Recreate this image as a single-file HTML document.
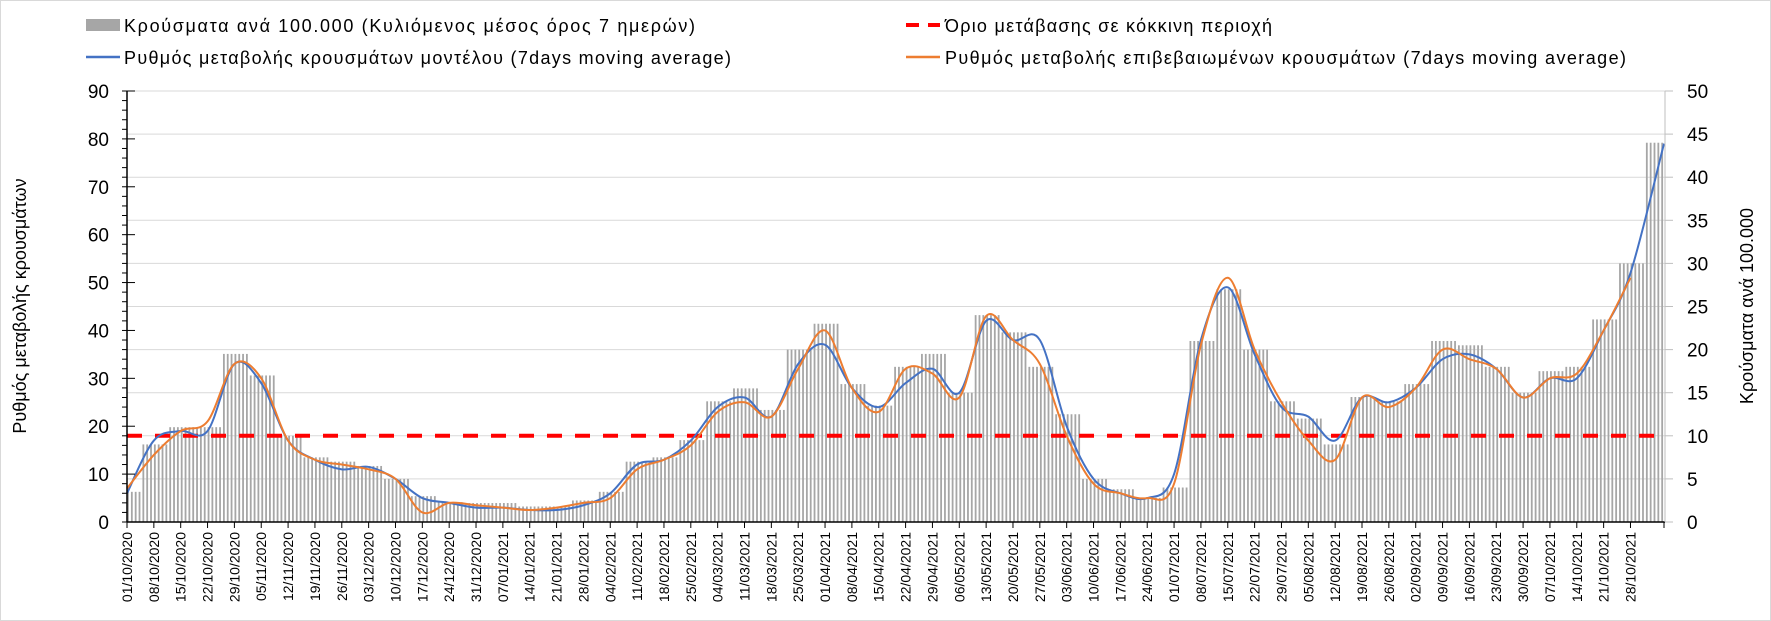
<!DOCTYPE html>
<html><head><meta charset="utf-8"><style>
body{margin:0;background:#fff}
svg{display:block;font-family:"Liberation Sans","DejaVu Sans",sans-serif}
</style></head><body>
<svg id="chart" width="1771" height="621" viewBox="0 0 1771 621">
<rect x="0.5" y="0.5" width="1770" height="620" fill="#fff" stroke="#d9d9d9"/>
<g id="grid"></g><g id="bars"></g><g id="lines"></g><g id="axes"></g>
<g>
<rect x="86" y="19" width="34" height="12" fill="#a6a6a6"/>
<text x="124" y="32" font-size="18" fill="#000" textLength="571">Κρούσματα ανά 100.000 (Κυλιόμενος μέσος όρος 7 ημερών)</text>
<line x1="906" y1="25" x2="940" y2="25" stroke="#ff0000" stroke-width="4" stroke-dasharray="13,9"/>
<text x="945" y="32" font-size="18" fill="#000" textLength="327">Όριο μετάβασης σε κόκκινη περιοχή</text>
<line x1="86" y1="57" x2="120" y2="57" stroke="#4472c4" stroke-width="2.5"/>
<text x="124" y="64" font-size="18" fill="#000" textLength="607">Ρυθμός μεταβολής κρουσμάτων μοντέλου (7days moving average)</text>
<line x1="906" y1="57" x2="940" y2="57" stroke="#ed7d31" stroke-width="2.5"/>
<text x="945" y="64" font-size="18" fill="#000" textLength="681">Ρυθμός μεταβολής επιβεβαιωμένων κρουσμάτων (7days moving average)</text>
</g>
<text transform="translate(26,306) rotate(-90)" text-anchor="middle" font-size="18">Ρυθμός μεταβολής κρουσμάτων</text>
<text transform="translate(1753,306) rotate(-90)" text-anchor="middle" font-size="18">Κρούσματα ανά 100.000</text>
</svg>
<script>
const weekLabels=["01/10/2020","08/10/2020","15/10/2020","22/10/2020","29/10/2020","05/11/2020","12/11/2020","19/11/2020","26/11/2020","03/12/2020","10/12/2020","17/12/2020","24/12/2020","31/12/2020","07/01/2021","14/01/2021","21/01/2021","28/01/2021","04/02/2021","11/02/2021","18/02/2021","25/02/2021","04/03/2021","11/03/2021","18/03/2021","25/03/2021","01/04/2021","08/04/2021","15/04/2021","22/04/2021","29/04/2021","06/05/2021","13/05/2021","20/05/2021","27/05/2021","03/06/2021","10/06/2021","17/06/2021","24/06/2021","01/07/2021","08/07/2021","15/07/2021","22/07/2021","29/07/2021","05/08/2021","12/08/2021","19/08/2021","26/08/2021","02/09/2021","09/09/2021","16/09/2021","23/09/2021","30/09/2021","07/10/2021","14/10/2021","21/10/2021","28/10/2021"];
const casesPer100k=[3.5,9,11,11,19.5,17,10,7.5,7,6.5,5,3,2.3,2.2,2.2,1.8,1.8,2.5,3.5,7,7.5,9.5,14,15.5,13,20,23,16,13.5,18,19.5,15,24,22,18,12.5,5,3.8,2.8,4,21,27,20,14,12,9,14.5,14,16,21,20.5,18,15,17.5,18,23.5,30,44];
const modelRate=[6,17,19,19,33,29,17,13,11,11.5,9,5,4,3,3,2.5,2.5,3.5,6,12,13,17,24,26,22,33,37,28,24,29,32,27,42,38,38,20,9,6,5,10,38,49,35,24,22,17,26,25,28,34,35,32,26,30,30,40,52,79];
const confirmedRate=[7,14,19,21,33,30,17,13,12,11,9,2,4,3.5,3,2.5,3,4,5,11,13,16,23,25,22,32,40,28,23,32,31,26,43,38,33,18,8,6,5,8,37,51,36,25,17,13,26,24,28,36,34,32,26,30,31,40,51];
const leftTicks=[0,10,20,30,40,50,60,70,80,90];
const rightTicks=[0,5,10,15,20,25,30,35,40,45,50];
const threshold=[18];

const NS="http://www.w3.org/2000/svg";
const X0=127,X1=1665,Y0=522,Y1=91,DAYS=401;
const xDay=d=>X0+d*(X1-X0)/DAYS;
const yL=v=>Y0-v*(Y0-Y1)/90;
const yR=v=>Y0-v*(Y0-Y1)/50;
function mk(tag,attrs,parent){const e=document.createElementNS(NS,tag);for(const k in attrs)e.setAttribute(k,attrs[k]);parent.appendChild(e);return e;}
const grid=document.getElementById('grid'),bars=document.getElementById('bars'),lines=document.getElementById('lines'),axes=document.getElementById('axes');

rightTicks.forEach(v=>{if(v===0)return;const l=mk('line',{x1:X0,x2:X1,y1:yR(v),y2:yR(v),stroke:'#d9d9d9','stroke-width':1},grid);

});

casesPer100k.forEach((v,w)=>{for(let k=-3;k<=3;k++){const d=w*7+k;if(d<0||d>DAYS)continue;const x=xDay(d)+1;if(x>X1-1)continue;
const r=mk('rect',{x:x-0.9,y:yR(v),width:1.8,height:Y0-yR(v),fill:'#a6a6a6'},bars);

}});

const th=mk('line',{x1:X0,x2:X1-10,y1:yL(threshold[0]),y2:yL(threshold[0]),stroke:'#ff0000','stroke-width':4,'stroke-dasharray':'15,13'},lines);



function smooth(pts){let d=`M${pts[0][0]},${pts[0][1]}`;for(let i=0;i<pts.length-1;i++){const p0=pts[i-1]||pts[i],p1=pts[i],p2=pts[i+1],p3=pts[i+2]||p2;
d+=` C${p1[0]+(p2[0]-p0[0])/6},${p1[1]+(p2[1]-p0[1])/6} ${p2[0]-(p3[0]-p1[0])/6},${p2[1]-(p3[1]-p1[1])/6} ${p2[0]},${p2[1]}`;}return d;}
function wx(i,n){return i===n-1&&n===modelRate.length?X1-1:xDay(i*7);}
const mp=modelRate.map((v,i)=>[wx(i,modelRate.length),yL(v)]);
const m=mk('path',{d:smooth(mp),fill:'none',stroke:'#4472c4','stroke-width':2},lines);


const cp=confirmedRate.map((v,i)=>[xDay(i*7),yL(v)]);
const c=mk('path',{d:smooth(cp),fill:'none',stroke:'#ed7d31','stroke-width':2},lines);



mk('line',{x1:X0,x2:X0,y1:Y1,y2:Y0,stroke:'#000','stroke-width':1.5},axes);
mk('line',{x1:X0,x2:X1,y1:Y0,y2:Y0,stroke:'#000','stroke-width':1.5},axes);
mk('line',{x1:X1,x2:X1,y1:Y1,y2:Y0,stroke:'#bfbfbf','stroke-width':1},axes);
for(let v=0;v<=90;v+=2){mk('line',{x1:X0-5,x2:X0+(v%10===0?8:0),y1:yL(v),y2:yL(v),stroke:'#000','stroke-width':1},axes);}
leftTicks.forEach(v=>{const t=mk('text',{x:X0-18,y:yL(v)+7,'text-anchor':'end','font-size':19,fill:'#000'},axes);t.textContent=v;

});
rightTicks.forEach(v=>{mk('line',{x1:X1,x2:X1+8,y1:yR(v),y2:yR(v),stroke:'#bfbfbf'},axes);
const t=mk('text',{x:X1+22,y:yR(v)+7,'font-size':19,fill:'#000'},axes);t.textContent=v;

});
weekLabels.forEach((s,i)=>{const x=xDay(i*7);mk('line',{x1:x,x2:x,y1:Y0,y2:Y0+6,stroke:'#000'},axes);
const t=mk('text',{transform:`translate(${x+5},${Y0+10}) rotate(-90)`,'text-anchor':'end','font-size':14,fill:'#000'},axes);t.textContent=s;

});
mk('line',{x1:X1-1,x2:X1-1,y1:Y0,y2:Y0+6,stroke:'#000'},axes);
</script>
</body></html>
